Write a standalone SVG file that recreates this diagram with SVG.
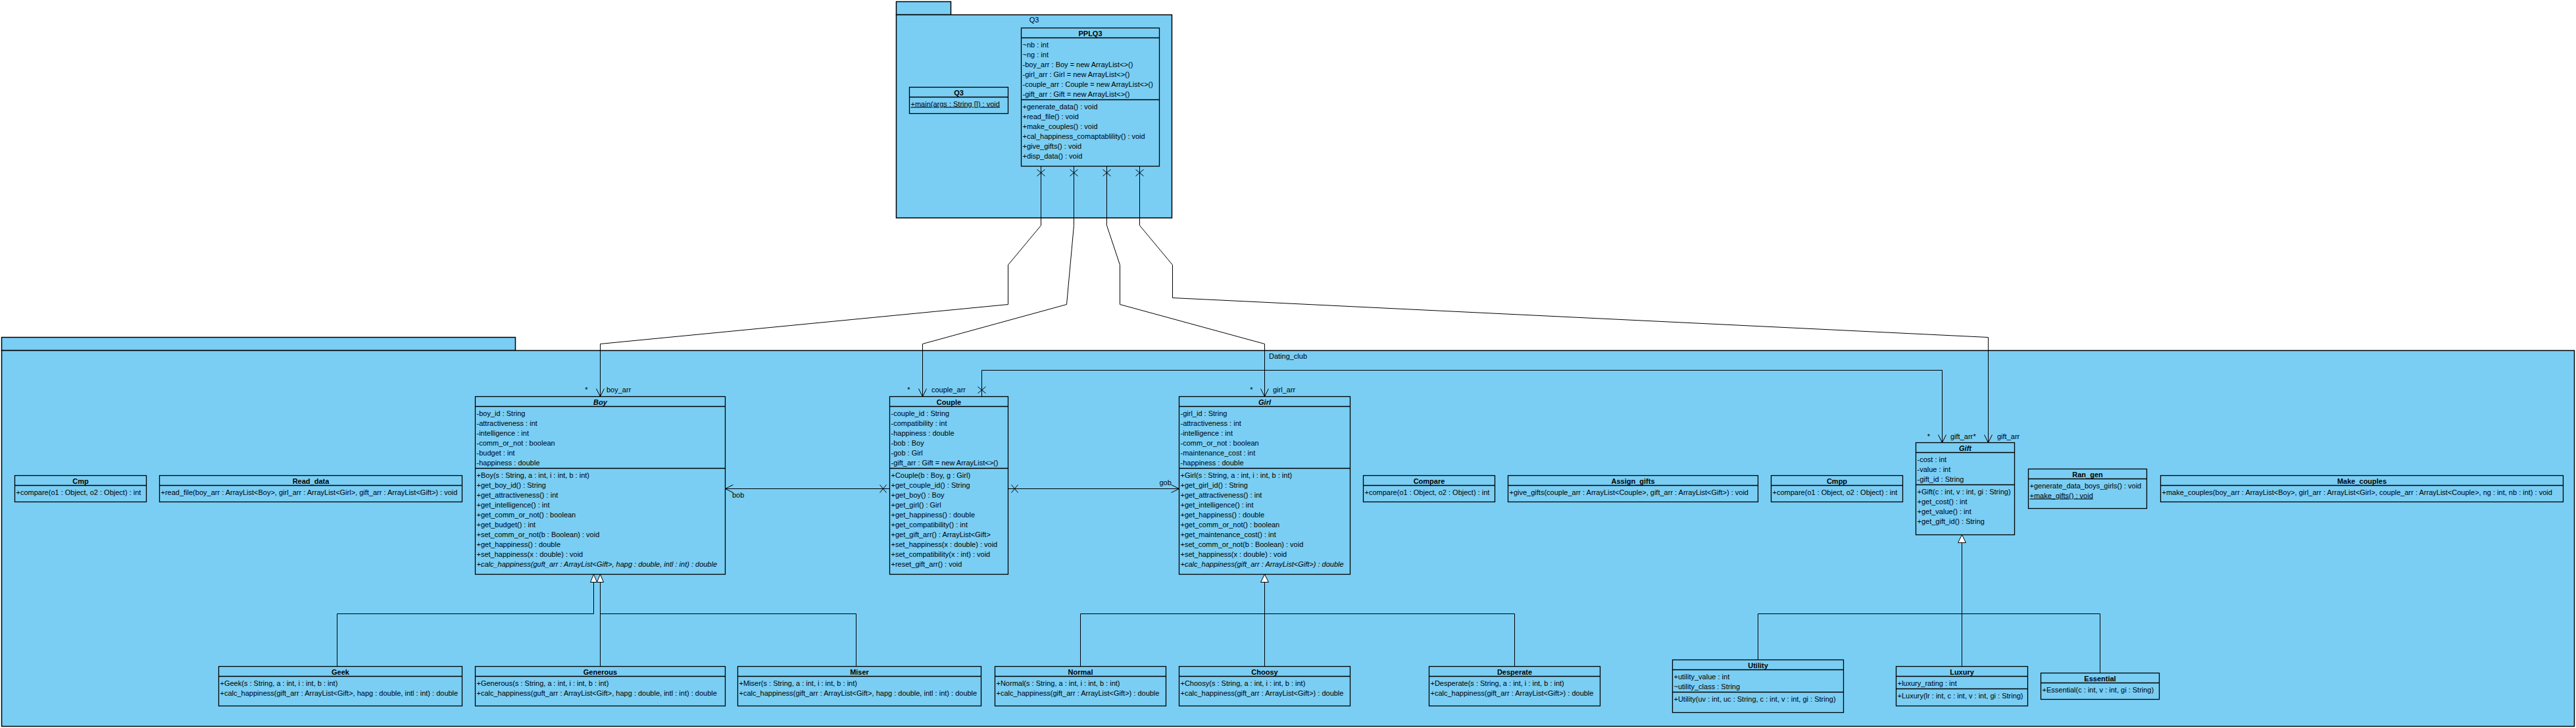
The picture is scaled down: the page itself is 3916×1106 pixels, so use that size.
<svg xmlns="http://www.w3.org/2000/svg" width="3916" height="1106" viewBox="0 0 3916 1106">
<style>
.bg{fill:#ffffff}
.pk{fill:#7ACEF4;stroke:#000;stroke-width:1.5}
.box{fill:#7ACEF4;stroke:#000;stroke-width:1.3}
.sep{stroke:#000;stroke-width:1.3}
.t{font-family:"Liberation Sans",Arial,sans-serif;font-size:11px;fill:#000}
.n{font-weight:bold;text-anchor:middle}
.m{text-anchor:middle}
.i{font-style:italic}
.u{text-decoration:underline}
.c{fill:none;stroke:#000;stroke-width:1}
.tri{fill:#fff;stroke:#000;stroke-width:1}
</style>
<defs>
<marker id="open" markerUnits="userSpaceOnUse" markerWidth="16" markerHeight="16" viewBox="-14 -8 16 16" refX="0" refY="0" orient="auto">
<path d="M-12,-6 L0,0 L-12,6" fill="none" stroke="#000" stroke-width="1"/>
</marker>
</defs>
<rect class="bg" x="0" y="0" width="3916" height="1106"/>

<g id="pkg-Q3">
<rect class="pk" x="1362.5" y="2.5" width="83" height="20"/>
<rect class="pk" x="1362.5" y="22.5" width="419" height="308.5"/>
<text class="t m" x="1572" y="34">Q3</text>
</g>

<g id="pkg-Dating_club">
<rect class="pk" x="2.5" y="512.5" width="781" height="20"/>
<rect class="pk" x="2.5" y="532.5" width="3911" height="571"/>
<text class="t m" x="1958" y="545">Dating_club</text>
</g>

<g id="connectors">
<path class="c" d="M1582.5,252.5 V342.5 L1532.5,402.5 V462.5 L912.5,522.5 V602.5" marker-end="url(#open)"/>
<path class="c" d="M1632.5,252.5 V342.5 L1621.5,462.5 L1402.5,522.5 V602.5" marker-end="url(#open)"/>
<path class="c" d="M1682.5,252.5 V342.5 L1702.5,402.5 V462.5 L1922.5,522.5 V602.5" marker-end="url(#open)"/>
<path class="c" d="M1732.5,252.5 V342.5 L1782.5,402.5 V452.5 L3022.5,512.5 V672.5" marker-end="url(#open)"/>
<path class="c" d="M1576.5,257.5 L1588.5,267.5 M1588.5,257.5 L1576.5,267.5"/>
<path class="c" d="M1626.5,257.5 L1638.5,267.5 M1638.5,257.5 L1626.5,267.5"/>
<path class="c" d="M1676.5,257.5 L1688.5,267.5 M1688.5,257.5 L1676.5,267.5"/>
<path class="c" d="M1726.5,257.5 L1738.5,267.5 M1738.5,257.5 L1726.5,267.5"/>
<text class="t m" x="891.5" y="596">*</text>
<text class="t" x="922" y="596">boy_arr</text>
<text class="t m" x="1381.5" y="596">*</text>
<text class="t" x="1416" y="596">couple_arr</text>
<text class="t m" x="1902.5" y="596">*</text>
<text class="t" x="1935" y="596">girl_arr</text>
<text class="t m" x="2932" y="667">*</text>
<text class="t" x="2965" y="667">gift_arr</text>
<text class="t" x="2999.5" y="667">*</text>
<text class="t" x="3036" y="667">gift_arr</text>

<path class="c" d="M1352.5,742.5 H1102.5" marker-end="url(#open)"/>
<path class="c" d="M1337.5,736.5 L1347.5,748.5 M1347.5,736.5 L1337.5,748.5"/>
<text class="t" x="1113" y="755.5">bob</text>
<path class="c" d="M1532.5,742.5 H1792.5" marker-end="url(#open)"/>
<path class="c" d="M1537.5,736.5 L1547.5,748.5 M1547.5,736.5 L1537.5,748.5"/>
<text class="t" x="1762.5" y="736.5">gob</text>
<path class="c" d="M1492.5,602.5 V562.5 H2952.5 V672.5" marker-end="url(#open)"/>
<path class="c" d="M1486.5,587.5 L1498.5,597.5 M1498.5,587.5 L1486.5,597.5"/>

<path class="c" d="M512.5,1012.5 V932.5 H902.5 V884.5"/>
<path class="c" d="M912.5,1012.5 V884.5"/>
<path class="c" d="M1301.5,1012.5 V932.5 H912.5"/>
<polygon class="tri" points="902.5,872.5 907.5,884.5 897.5,884.5"/>
<polygon class="tri" points="912.5,872.5 917.5,884.5 907.5,884.5"/>
<path class="c" d="M1642.5,1012.5 V932.5 H2302.5 V1012.5 M1922.5,1012.5 V884.5"/>
<polygon class="tri" points="1922.5,872.5 1928.5,884.5 1916.5,884.5"/>
<path class="c" d="M2672.5,1002.5 V932.5 H3192.5 V1022.5 M2982.5,1012.5 V824.5"/>
<polygon class="tri" points="2982.5,812.5 2988.5,824.5 2976.5,824.5"/>
</g>

<g id="PPLQ3">
<rect class="box" x="1552.5" y="42.5" width="210" height="210"/>
<line class="sep" x1="1552.5" y1="57.5" x2="1762.5" y2="57.5"/>
<line class="sep" x1="1552.5" y1="151.5" x2="1762.5" y2="151.5"/>
<text class="t n" x="1657.5" y="54.5">PPLQ3</text>
<text class="t" x="1554.5" y="71.5">~nb : int</text>
<text class="t" x="1554.5" y="86.5">~ng : int</text>
<text class="t" x="1554.5" y="101.5">-boy_arr : Boy = new ArrayList&lt;&gt;()</text>
<text class="t" x="1554.5" y="116.5">-girl_arr : Girl = new ArrayList&lt;&gt;()</text>
<text class="t" x="1554.5" y="131.5">-couple_arr : Couple = new ArrayList&lt;&gt;()</text>
<text class="t" x="1554.5" y="146.5">-gift_arr : Gift = new ArrayList&lt;&gt;()</text>
<text class="t" x="1554.5" y="165.5">+generate_data() : void</text>
<text class="t" x="1554.5" y="180.5">+read_file() : void</text>
<text class="t" x="1554.5" y="195.5">+make_couples() : void</text>
<text class="t" x="1554.5" y="210.5">+cal_happiness_comaptablility() : void</text>
<text class="t" x="1554.5" y="225.5">+give_gifts() : void</text>
<text class="t" x="1554.5" y="240.5">+disp_data() : void</text>
</g>

<g id="Q3">
<rect class="box" x="1382.5" y="132.5" width="150" height="40"/>
<line class="sep" x1="1382.5" y1="147.5" x2="1532.5" y2="147.5"/>
<text class="t n" x="1457.5" y="144.5">Q3</text>
<text class="t u" x="1384.5" y="161.5">+main(args : String []) : void</text>
</g>

<g id="Boy">
<rect class="box" x="722.5" y="602.5" width="380" height="270"/>
<line class="sep" x1="722.5" y1="617.5" x2="1102.5" y2="617.5"/>
<line class="sep" x1="722.5" y1="711.5" x2="1102.5" y2="711.5"/>
<text class="t n i" x="912.5" y="614.5">Boy</text>
<text class="t" x="724.5" y="631.5">-boy_id : String</text>
<text class="t" x="724.5" y="646.5">-attractiveness : int</text>
<text class="t" x="724.5" y="661.5">-intelligence : int</text>
<text class="t" x="724.5" y="676.5">-comm_or_not : boolean</text>
<text class="t" x="724.5" y="691.5">-budget : int</text>
<text class="t" x="724.5" y="706.5">-happiness : double</text>
<text class="t" x="724.5" y="725.5">+Boy(s : String, a : int, i : int, b : int)</text>
<text class="t" x="724.5" y="740.5">+get_boy_id() : String</text>
<text class="t" x="724.5" y="755.5">+get_attractiveness() : int</text>
<text class="t" x="724.5" y="770.5">+get_intelligence() : int</text>
<text class="t" x="724.5" y="785.5">+get_comm_or_not() : boolean</text>
<text class="t" x="724.5" y="800.5">+get_budget() : int</text>
<text class="t" x="724.5" y="815.5">+set_comm_or_not(b : Boolean) : void</text>
<text class="t" x="724.5" y="830.5">+get_happiness() : double</text>
<text class="t" x="724.5" y="845.5">+set_happiness(x : double) : void</text>
<text class="t i" x="724.5" y="860.5">+calc_happiness(guft_arr : ArrayList&lt;Gift&gt;, hapg : double, intl : int) : double</text>
</g>

<g id="Couple">
<rect class="box" x="1352.5" y="602.5" width="180" height="270"/>
<line class="sep" x1="1352.5" y1="617.5" x2="1532.5" y2="617.5"/>
<line class="sep" x1="1352.5" y1="711.5" x2="1532.5" y2="711.5"/>
<text class="t n" x="1442.5" y="614.5">Couple</text>
<text class="t" x="1354.5" y="631.5">-couple_id : String</text>
<text class="t" x="1354.5" y="646.5">-compatibility : int</text>
<text class="t" x="1354.5" y="661.5">-happiness : double</text>
<text class="t" x="1354.5" y="676.5">-bob : Boy</text>
<text class="t" x="1354.5" y="691.5">-gob : Girl</text>
<text class="t" x="1354.5" y="706.5">-gift_arr : Gift = new ArrayList&lt;&gt;()</text>
<text class="t" x="1354.5" y="725.5">+Couple(b : Boy, g : Girl)</text>
<text class="t" x="1354.5" y="740.5">+get_couple_id() : String</text>
<text class="t" x="1354.5" y="755.5">+get_boy() : Boy</text>
<text class="t" x="1354.5" y="770.5">+get_girl() : Girl</text>
<text class="t" x="1354.5" y="785.5">+get_happiness() : double</text>
<text class="t" x="1354.5" y="800.5">+get_compatibility() : int</text>
<text class="t" x="1354.5" y="815.5">+get_gift_arr() : ArrayList&lt;Gift&gt;</text>
<text class="t" x="1354.5" y="830.5">+set_happiness(x : double) : void</text>
<text class="t" x="1354.5" y="845.5">+set_compatibility(x : int) : void</text>
<text class="t" x="1354.5" y="860.5">+reset_gift_arr() : void</text>
</g>

<g id="Girl">
<rect class="box" x="1792.5" y="602.5" width="260" height="270"/>
<line class="sep" x1="1792.5" y1="617.5" x2="2052.5" y2="617.5"/>
<line class="sep" x1="1792.5" y1="711.5" x2="2052.5" y2="711.5"/>
<text class="t n i" x="1922.5" y="614.5">Girl</text>
<text class="t" x="1794.5" y="631.5">-girl_id : String</text>
<text class="t" x="1794.5" y="646.5">-attractiveness : int</text>
<text class="t" x="1794.5" y="661.5">-intelligence : int</text>
<text class="t" x="1794.5" y="676.5">-comm_or_not : boolean</text>
<text class="t" x="1794.5" y="691.5">-maintenance_cost : int</text>
<text class="t" x="1794.5" y="706.5">-happiness : double</text>
<text class="t" x="1794.5" y="725.5">+Girl(s : String, a : int, i : int, b : int)</text>
<text class="t" x="1794.5" y="740.5">+get_girl_id() : String</text>
<text class="t" x="1794.5" y="755.5">+get_attractiveness() : int</text>
<text class="t" x="1794.5" y="770.5">+get_intelligence() : int</text>
<text class="t" x="1794.5" y="785.5">+get_happiness() : double</text>
<text class="t" x="1794.5" y="800.5">+get_comm_or_not() : boolean</text>
<text class="t" x="1794.5" y="815.5">+get_maintenance_cost() : int</text>
<text class="t" x="1794.5" y="830.5">+set_comm_or_not(b : Boolean) : void</text>
<text class="t" x="1794.5" y="845.5">+set_happiness(x : double) : void</text>
<text class="t i" x="1794.5" y="860.5">+calc_happiness(gift_arr : ArrayList&lt;Gift&gt;) : double</text>
</g>

<g id="Cmp">
<rect class="box" x="22.5" y="722.5" width="200" height="40"/>
<line class="sep" x1="22.5" y1="737.5" x2="222.5" y2="737.5"/>
<text class="t n" x="122.5" y="734.5">Cmp</text>
<text class="t" x="24.5" y="751.5">+compare(o1 : Object, o2 : Object) : int</text>
</g>

<g id="Read_data">
<rect class="box" x="242.5" y="722.5" width="460" height="40"/>
<line class="sep" x1="242.5" y1="737.5" x2="702.5" y2="737.5"/>
<text class="t n" x="472.5" y="734.5">Read_data</text>
<text class="t" x="244.5" y="751.5">+read_file(boy_arr : ArrayList&lt;Boy&gt;, girl_arr : ArrayList&lt;Girl&gt;, gift_arr : ArrayList&lt;Gift&gt;) : void</text>
</g>

<g id="Compare">
<rect class="box" x="2072.5" y="722.5" width="200" height="40"/>
<line class="sep" x1="2072.5" y1="737.5" x2="2272.5" y2="737.5"/>
<text class="t n" x="2172.5" y="734.5">Compare</text>
<text class="t" x="2074.5" y="751.5">+compare(o1 : Object, o2 : Object) : int</text>
</g>

<g id="Assign_gifts">
<rect class="box" x="2292.5" y="722.5" width="380" height="40"/>
<line class="sep" x1="2292.5" y1="737.5" x2="2672.5" y2="737.5"/>
<text class="t n" x="2482.5" y="734.5">Assign_gifts</text>
<text class="t" x="2294.5" y="751.5">+give_gifts(couple_arr : ArrayList&lt;Couple&gt;, gift_arr : ArrayList&lt;Gift&gt;) : void</text>
</g>

<g id="Cmpp">
<rect class="box" x="2692.5" y="722.5" width="200" height="40"/>
<line class="sep" x1="2692.5" y1="737.5" x2="2892.5" y2="737.5"/>
<text class="t n" x="2792.5" y="734.5">Cmpp</text>
<text class="t" x="2694.5" y="751.5">+compare(o1 : Object, o2 : Object) : int</text>
</g>

<g id="Gift">
<rect class="box" x="2912.5" y="672.5" width="150" height="140"/>
<line class="sep" x1="2912.5" y1="687.5" x2="3062.5" y2="687.5"/>
<line class="sep" x1="2912.5" y1="736.5" x2="3062.5" y2="736.5"/>
<text class="t n i" x="2987.5" y="684.5">Gift</text>
<text class="t" x="2914.5" y="701.5">-cost : int</text>
<text class="t" x="2914.5" y="716.5">-value : int</text>
<text class="t" x="2914.5" y="731.5">-gift_id : String</text>
<text class="t" x="2914.5" y="750.5">+Gift(c : int, v : int, gi : String)</text>
<text class="t" x="2914.5" y="765.5">+get_cost() : int</text>
<text class="t" x="2914.5" y="780.5">+get_value() : int</text>
<text class="t" x="2914.5" y="795.5">+get_gift_id() : String</text>
</g>

<g id="Ran_gen">
<rect class="box" x="3083.5" y="712.5" width="180" height="60"/>
<line class="sep" x1="3083.5" y1="727.5" x2="3263.5" y2="727.5"/>
<text class="t n" x="3173.5" y="724.5">Ran_gen</text>
<text class="t" x="3085.5" y="741.5">+generate_data_boys_girls() : void</text>
<text class="t u" x="3085.5" y="756.5">+make_gifts() : void</text>
</g>

<g id="Make_couples">
<rect class="box" x="3284.5" y="722.5" width="612" height="40"/>
<line class="sep" x1="3284.5" y1="737.5" x2="3896.5" y2="737.5"/>
<text class="t n" x="3590.5" y="734.5">Make_couples</text>
<text class="t" x="3286.5" y="751.5">+make_couples(boy_arr : ArrayList&lt;Boy&gt;, girl_arr : ArrayList&lt;Girl&gt;, couple_arr : ArrayList&lt;Couple&gt;, ng : int, nb : int) : void</text>
</g>

<g id="Geek">
<rect class="box" x="332.5" y="1012.5" width="370" height="60"/>
<line class="sep" x1="332.5" y1="1027.5" x2="702.5" y2="1027.5"/>
<text class="t n" x="517.5" y="1024.5">Geek</text>
<text class="t" x="334.5" y="1041.5">+Geek(s : String, a : int, i : int, b : int)</text>
<text class="t" x="334.5" y="1056.5">+calc_happiness(gift_arr : ArrayList&lt;Gift&gt;, hapg : double, intl : int) : double</text>
</g>

<g id="Generous">
<rect class="box" x="722.5" y="1012.5" width="380" height="60"/>
<line class="sep" x1="722.5" y1="1027.5" x2="1102.5" y2="1027.5"/>
<text class="t n" x="912.5" y="1024.5">Generous</text>
<text class="t" x="724.5" y="1041.5">+Generous(s : String, a : int, i : int, b : int)</text>
<text class="t" x="724.5" y="1056.5">+calc_happiness(guft_arr : ArrayList&lt;Gift&gt;, hapg : double, intl : int) : double</text>
</g>

<g id="Miser">
<rect class="box" x="1121.5" y="1012.5" width="370" height="60"/>
<line class="sep" x1="1121.5" y1="1027.5" x2="1491.5" y2="1027.5"/>
<text class="t n" x="1306.5" y="1024.5">Miser</text>
<text class="t" x="1123.5" y="1041.5">+Miser(s : String, a : int, i : int, b : int)</text>
<text class="t" x="1123.5" y="1056.5">+calc_happiness(gift_arr : ArrayList&lt;Gift&gt;, hapg : double, intl : int) : double</text>
</g>

<g id="Normal">
<rect class="box" x="1512.5" y="1012.5" width="260" height="60"/>
<line class="sep" x1="1512.5" y1="1027.5" x2="1772.5" y2="1027.5"/>
<text class="t n" x="1642.5" y="1024.5">Normal</text>
<text class="t" x="1514.5" y="1041.5">+Normal(s : String, a : int, i : int, b : int)</text>
<text class="t" x="1514.5" y="1056.5">+calc_happiness(gift_arr : ArrayList&lt;Gift&gt;) : double</text>
</g>

<g id="Choosy">
<rect class="box" x="1792.5" y="1012.5" width="260" height="60"/>
<line class="sep" x1="1792.5" y1="1027.5" x2="2052.5" y2="1027.5"/>
<text class="t n" x="1922.5" y="1024.5">Choosy</text>
<text class="t" x="1794.5" y="1041.5">+Choosy(s : String, a : int, i : int, b : int)</text>
<text class="t" x="1794.5" y="1056.5">+calc_happiness(gift_arr : ArrayList&lt;Gift&gt;) : double</text>
</g>

<g id="Desperate">
<rect class="box" x="2172.5" y="1012.5" width="260" height="60"/>
<line class="sep" x1="2172.5" y1="1027.5" x2="2432.5" y2="1027.5"/>
<text class="t n" x="2302.5" y="1024.5">Desperate</text>
<text class="t" x="2174.5" y="1041.5">+Desperate(s : String, a : int, i : int, b : int)</text>
<text class="t" x="2174.5" y="1056.5">+calc_happiness(gift_arr : ArrayList&lt;Gift&gt;) : double</text>
</g>

<g id="Utility">
<rect class="box" x="2542.5" y="1002.5" width="260" height="80"/>
<line class="sep" x1="2542.5" y1="1017.5" x2="2802.5" y2="1017.5"/>
<line class="sep" x1="2542.5" y1="1051.5" x2="2802.5" y2="1051.5"/>
<text class="t n" x="2672.5" y="1014.5">Utility</text>
<text class="t" x="2544.5" y="1031.5">+utility_value : int</text>
<text class="t" x="2544.5" y="1046.5">~utility_class : String</text>
<text class="t" x="2544.5" y="1065.5">+Utility(uv : int, uc : String, c : int, v : int, gi : String)</text>
</g>

<g id="Luxury">
<rect class="box" x="2882.5" y="1012.5" width="200" height="60"/>
<line class="sep" x1="2882.5" y1="1027.5" x2="3082.5" y2="1027.5"/>
<line class="sep" x1="2882.5" y1="1046.5" x2="3082.5" y2="1046.5"/>
<text class="t n" x="2982.5" y="1024.5">Luxury</text>
<text class="t" x="2884.5" y="1041.5">+luxury_rating : int</text>
<text class="t" x="2884.5" y="1060.5">+Luxury(lr : int, c : int, v : int, gi : String)</text>
</g>

<g id="Essential">
<rect class="box" x="3102.5" y="1022.5" width="180" height="40"/>
<line class="sep" x1="3102.5" y1="1037.5" x2="3282.5" y2="1037.5"/>
<text class="t n" x="3192.5" y="1034.5">Essential</text>
<text class="t" x="3104.5" y="1051.5">+Essential(c : int, v : int, gi : String)</text>
</g>
</svg>
